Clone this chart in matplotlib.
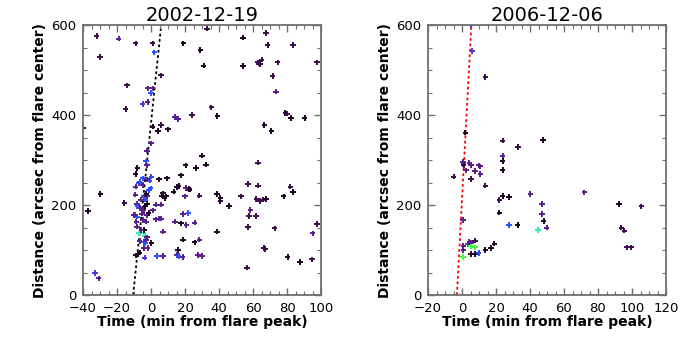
import numpy as np
import matplotlib
matplotlib.use("Agg")
import matplotlib.pyplot as plt
from matplotlib.ticker import MultipleLocator

# %% Data

# colour levels: 0 black, 1 dark purple, 2 purple, 3 violet-blue, 4 blue, 5 cyan, 6 green
level_colors = ["#1e0424", "#3c0c4c", "#5a1e8c", "#5a30d8", "#2a50ff", "#30f0b0", "#40ff40"]

# 2002-12-19
t1 = [-32, -19, -9, 1, 2, -30, 6, -14, -2, 1, 0, -2, -5, -15, -40, 1, 6, 4, 10, 14, 16, 24, 35.5, 39,
      0, -2.4, -3, -2.4, -8, -9, 30, 32.5, 26.5, 20.4, 17.8, 15.3, 13.3, 16.3, 22.5, 20.4, 9.4, 8.8, 7,
      33, 19, 29, 31, 54, 54, 63, 64, 65, 63.5, 67.6, 68.6, 71.6, 73.5, 74.5, 83.5, 97.6,
      66.7, 70.8, 79, 80, 82.5, 90.4, 63, 57, 63, 78, 82, 83.5, 62, 64, 66, 67.5, 58.4, 57.8, 61.8,
      57, 72.7, 66.3, 67.3, 56.5, 80.4, 87.5, 94.7, 95, 97.6, 53, 46, 38.8, 40.8, 40.8, 38.8, 28.4,
      22.7, 20, 18.8, 22, 14, 17.6, 20.8, 25.7, 18.8, 25.7, 28.4, 15.9, 15.3, 16.3, 18.6, 27.5, 30,
      3.5, 6.9, 6.9, 4.7, 6, 8, 6.3, 3, 6, 3.1, 1.2, 4.7, 0.2, -2, -4, -3.7, -7.6, -6.7,
      -9.2, -8.2, -9.2, -8, -10, -8, -8.6, -8.2, -7.3, -4.3, -3.7, -6.7, -4, -3.3, -4, -5.7,
      -6.3, -5.3, -4.3, -3.3, -2.4, -3.3, -4.3, -2.4, -1.4, -0.2, -2.7, -0.8, 0.2, -2.4, -4.7,
      -6.7, -7, -5, -9, -5.9, -4.7, -3, -2.4, -1.4, -3.1, -2.4,
      -36.9, -29.8, -15.7, -33.1, -30.8, -8.8]
d1 = [576, 570, 559, 559, 539, 529, 488, 466, 459, 459, 449, 429, 424, 413, 372, 374, 378, 364, 368, 396, 391,
      400, 417, 398, 337, 321, 297, 288, 282, 269, 310, 290, 282, 288, 266, 240, 230, 242, 236, 238, 259, 219, 226,
      592, 559, 545, 510, 509, 572, 517, 513, 523, 514, 582, 555, 487, 452, 517, 555, 517,
      378, 365, 404, 403, 393, 393, 294, 247, 243, 219, 241, 229, 213, 209, 212, 213, 189, 176, 176,
      151, 148, 104, 102, 61, 84, 73, 79, 137, 158, 219, 198, 225, 216, 208, 141, 221,
      234, 219, 180, 182, 163, 159, 156, 161, 123, 117, 123, 100, 89, 87, 84, 89, 87,
      87, 87, 141, 170, 170, 216, 221, 201, 201, 168, 188, 257, 115, 104, 104, 83, 91, 94,
      223, 203, 178, 174, 178, 197, 163, 152, 137, 137, 131, 120, 118, 115, 144, 144,
      193, 181, 189, 197, 203, 212, 219, 219, 233, 237, 225, 254, 263, 257, 259,
      252, 248, 245, 241, 212, 167, 163, 178, 182, 123, 128,
      187, 225, 204, 49, 37, 88]
c1 = [1, 2, 1, 1, 4, 1, 1, 1, 2, 2, 4, 2, 3, 1, 1, 0, 1, 0, 0, 2, 2, 1, 1, 0,
      2, 2, 4, 2, 0, 0, 0, 0, 0, 0, 0, 0, 0, 0, 0, 2, 0, 0, 0,
      1, 0, 0, 0, 0, 0, 1, 0, 1, 1, 1, 1, 1, 2, 1, 1, 1,
      0, 0, 0, 1, 0, 0, 1, 1, 1, 0, 1, 0, 1, 1, 1, 0, 2, 1, 1,
      1, 1, 1, 1, 1, 0, 0, 1, 2, 1, 1, 0, 0, 0, 0, 0, 1,
      0, 2, 2, 4, 2, 0, 2, 2, 0, 0, 2, 0, 2, 4, 2, 2, 2,
      4, 2, 2, 2, 2, 0, 0, 2, 2, 2, 2, 0, 0, 2, 2, 3, 0, 0,
      2, 2, 4, 4, 2, 4, 2, 2, 5, 5, 5, 2, 4, 4, 0, 2,
      2, 2, 2, 0, 0, 4, 4, 2, 4, 4, 0, 4, 4, 2, 4,
      4, 4, 2, 2, 2, 2, 2, 2, 0, 2, 2,
      0, 0, 1, 3, 2, 0]

# 2006-12-06
t2 = [5.5, 6.1, 13.7, 2, 0.6, 0.8, 1, 2.4, 4.3, 5.3, 5.3, 7.8, 9.8, 10.8, 10.8, 13.7, -4.9,
      23.9, 23.9, 23.9, 23.9, 32.9, 47.8, 23.9, 22, 27.8, 22, 40.2, 46.9, 46.9, 48, 49.8,
      27.8, 32.7, 44.7, 72, 92.5, 105.5, 93.7, 95.5, 97, 99.6,
      0.6, 0.8, 0.8, 3.5, 4.3, 5.5, 5.1, 7.8, 7.8, 5.1, 7.8, 9.8, 13.7, 17, 19, 0.6]
d2 = [600, 542, 485, 361, 296, 291, 288, 277, 294, 288, 258, 276, 288, 286, 269, 243, 263,
      343, 310, 298, 278, 329, 344, 220, 211, 218, 183, 224, 202, 180, 164, 150,
      155, 155, 144, 228, 202, 197, 150, 143, 106, 106,
      167, 109, 100, 113, 118, 115, 108, 106, 121, 91, 91, 93, 100, 104, 114, 84]
c2 = [3, 3, 1, 0, 2, 2, 1, 2, 2, 2, 1, 2, 2, 2, 2, 1, 1,
      1, 2, 0, 0, 1, 0, 0, 1, 0, 0, 2, 2, 2, 0, 2,
      4, 0, 5, 2, 0, 1, 1, 1, 1, 1,
      2, 2, 2, 4, 2, 2, 6, 6, 1, 0, 0, 4, 0, 0, 0, 6]

# fitted propagation lines (time, distance) end points
line1_t = [-10.5, 6.0]
line2_t = [-3.0, 5.5]
line_d = [0, 600]

titles = ["2002-12-19", "2006-12-06"]
xlims = [(-40, 100), (-20, 120)]

# %% Plot

frame = "#6e6e6e"

fig = plt.figure(figsize=(6.9, 3.45), dpi=100)
ax1 = fig.add_axes([83 / 690, 50 / 345, 238 / 690, 270 / 345])
ax2 = fig.add_axes([428 / 690, 50 / 345, 238 / 690, 270 / 345])

panels = [(ax1, t1, d1, c1, line1_t, "black"), (ax2, t2, d2, c2, line2_t, "red")]
for i, (ax, t, d, c, lt, lc) in enumerate(panels):
    ax.plot(lt, line_d, linestyle=(0, (1.5, 1.5)), color=lc, lw=1.3, zorder=1)
    cols = [level_colors[k] for k in c]
    ax.scatter(t, d, marker="+", s=16, linewidths=1.4, c=cols, zorder=2)
    ax.set_xlim(*xlims[i])
    ax.set_ylim(0, 600)
    ax.xaxis.set_major_locator(MultipleLocator(20))
    ax.xaxis.set_minor_locator(MultipleLocator(5))
    ax.yaxis.set_major_locator(MultipleLocator(200))
    ax.yaxis.set_minor_locator(MultipleLocator(50))
    ax.tick_params(which="both", direction="in", top=True, right=True, color=frame,
                   labelsize=9.5)
    ax.tick_params(axis="x", pad=5)
    ax.tick_params(axis="y", pad=5)
    ax.tick_params(which="major", length=5, width=1.0)
    ax.tick_params(which="minor", length=3, width=0.8)
    for s in ax.spines.values():
        s.set_color(frame)
        s.set_linewidth(1.3)
    ax.set_xlabel("Time (min from flare peak)", fontsize=10, fontweight="bold", labelpad=0)
    ax.set_ylabel("Distance (arcsec from flare center)", fontsize=10, fontweight="bold", labelpad=3)
    ax.set_title(titles[i], fontsize=14, pad=2)

fig.savefig("out.png", dpi=100)
